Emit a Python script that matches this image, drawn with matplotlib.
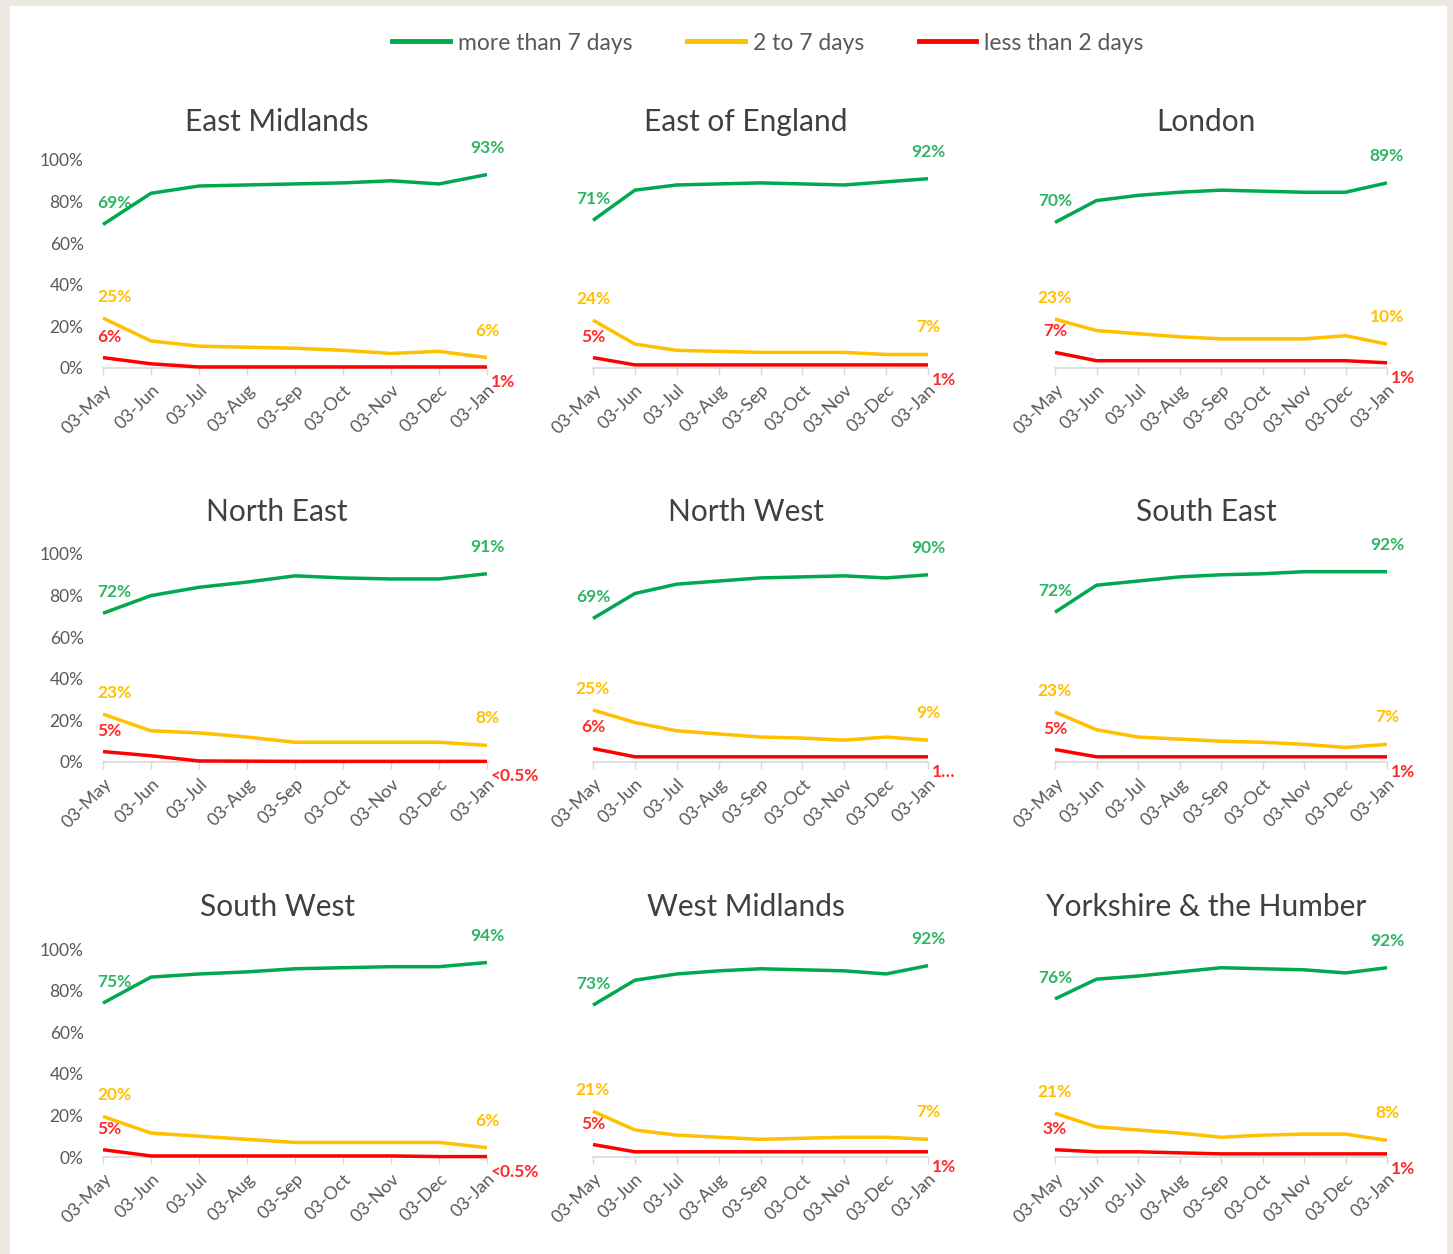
import matplotlib.pyplot as plt
from matplotlib.patches import Rectangle

months = ['03-May', '03-Jun', '03-Jul', '03-Aug', '03-Sep',
          '03-Oct', '03-Nov', '03-Dec', '03-Jan']
regions = ['East Midlands', 'East of England', 'London',
           'North East', 'North West', 'South East',
           'South West', 'West Midlands', 'Yorkshire & the Humber']

# % of cases
more_than_7 = [
    [69, 84, 87.5, 88, 88.5, 89, 90, 88.5, 93],
    [71, 85.5, 88, 88.5, 89, 88.5, 88, 89.5, 91],
    [70, 80.5, 83, 84.5, 85.5, 85, 84.5, 84.5, 89],
    [71.5, 80, 84, 86.5, 89.5, 88.5, 88, 88, 90.5],
    [69, 81, 85.5, 87, 88.5, 89, 89.5, 88.5, 90],
    [72, 85, 87, 89, 90, 90.5, 91.5, 91.5, 91.5],
    [74, 86.5, 88, 89, 90.5, 91, 91.5, 91.5, 93.5],
    [73, 85, 88, 89.5, 90.5, 90, 89.5, 88, 92],
    [76, 85.5, 87, 89, 91, 90.5, 90, 88.5, 91],
]
two_to_7 = [
    [24, 13, 10.5, 10, 9.5, 8.5, 7, 8, 5],
    [23, 11.5, 8.5, 8, 7.5, 7.5, 7.5, 6.5, 6.5],
    [23.5, 18, 16.5, 15, 14, 14, 14, 15.5, 11.5],
    [23, 15, 14, 12, 9.5, 9.5, 9.5, 9.5, 8],
    [25, 19, 15, 13.5, 12, 11.5, 10.5, 12, 10.5],
    [24, 15.5, 12, 11, 10, 9.5, 8.5, 7, 8.5],
    [19.5, 11.5, 10, 8.5, 7, 7, 7, 7, 4.5],
    [22, 13, 10.5, 9.5, 8.5, 9, 9.5, 9.5, 8.5],
    [21, 14.5, 13, 11.5, 9.5, 10.5, 11, 11, 8],
]
less_than_2 = [
    [5, 2, 0.5, 0.5, 0.5, 0.5, 0.5, 0.5, 0.5],
    [5, 1.5, 1.5, 1.5, 1.5, 1.5, 1.5, 1.5, 1.5],
    [7.5, 3.5, 3.5, 3.5, 3.5, 3.5, 3.5, 3.5, 2.5],
    [5, 3, 0.5, 0.4, 0.3, 0.3, 0.3, 0.3, 0.3],
    [6.5, 2.5, 2.5, 2.5, 2.5, 2.5, 2.5, 2.5, 2.5],
    [6, 2.5, 2.5, 2.5, 2.5, 2.5, 2.5, 2.5, 2.5],
    [3.5, 0.5, 0.5, 0.5, 0.5, 0.5, 0.5, 0.2, 0.2],
    [6, 2.5, 2.5, 2.5, 2.5, 2.5, 2.5, 2.5, 2.5],
    [3.5, 2.5, 2.5, 2, 1.5, 1.5, 1.5, 1.5, 1.5],
]

# data labels at the first and last point
green_first = ['69%', '71%', '70%', '72%', '69%', '72%', '75%', '73%', '76%']
green_last = ['93%', '92%', '89%', '91%', '90%', '92%', '94%', '92%', '92%']
yellow_first = ['25%', '24%', '23%', '23%', '25%', '23%', '20%', '21%', '21%']
yellow_last = ['6%', '7%', '10%', '8%', '9%', '7%', '6%', '7%', '8%']
red_first = ['6%', '5%', '7%', '5%', '6%', '5%', '5%', '5%', '3%']
red_last = ['1%', '1%', '1%', '<0.5%', '1…', '1%', '<0.5%', '1%', '1%']

series_names = ['more than 7 days', '2 to 7 days', 'less than 2 days']
line_cols = ['#00A84F', '#FFC000', '#FF0000']
text_cols = ['#2DB564', '#FFC000', '#FF2A2A']

W, H = 1453, 1254
plt.rcParams['font.family'] = ['Lato', 'DejaVu Sans']
fig = plt.figure(figsize=(W / 100, H / 100), dpi=100)
fig.patch.set_facecolor('#ECE8DF')
fig.add_artist(Rectangle((10 / W, 0), 1436 / W, 1248 / H,
                         transform=fig.transFigure, color='white', zorder=-5))

# plot-area boxes in pixels (left, width) and row baselines
cols_px = [(103, 384), (593, 335), (1055, 332)]
rows_px = [368, 762, 1157]
title_x = [277, 746, 1206]
title_y = [122, 512, 907]
plot_h = 208

grey = '#595959'
x = list(range(len(months)))

for i, name in enumerate(regions):
    r, c = divmod(i, 3)
    left, width = cols_px[c]
    base = rows_px[r]
    ax = fig.add_axes([left / W, (H - base) / H, width / W, plot_h / H])
    data = [more_than_7[i], two_to_7[i], less_than_2[i]]
    for k in range(3):
        ax.plot(x, data[k], color=line_cols[k], lw=2.5, clip_on=False,
                solid_capstyle='butt', zorder=5 - k)

    firsts = [green_first[i], yellow_first[i], red_first[i]]
    lasts = [green_last[i], yellow_last[i], red_last[i]]
    for k in range(3):
        ax.annotate(firsts[k], (0, data[k][0]), xytext=(-6 if c == 0 else 0, 21),
                    textcoords='offset pixels', ha='left' if c == 0 else 'center',
                    va='center', color=text_cols[k], fontsize=12.5, fontweight='bold')
        if k == 2:
            ax.annotate(lasts[k], (8, data[k][-1]), xytext=(4, -15),
                        textcoords='offset pixels', ha='left', va='center',
                        color=text_cols[k], fontsize=12.5, fontweight='bold')
        else:
            ax.annotate(lasts[k], (8, data[k][-1]), xytext=(0, 27),
                        textcoords='offset pixels', ha='center', va='center',
                        color=text_cols[k], fontsize=12.5, fontweight='bold')

    ax.set_xlim(0, 8)
    ax.set_ylim(0, 100)
    for s in ['top', 'right', 'left']:
        ax.spines[s].set_visible(False)
    ax.spines['bottom'].set_color('#D9D9D9')
    ax.spines['bottom'].set_linewidth(1.2)
    ax.set_xticks(x)
    ax.set_xticklabels(months, rotation=45, ha='right', va='top',
                       rotation_mode='anchor', color=grey, fontsize=13)
    ax.tick_params(axis='x', colors='#D9D9D9', length=5, width=1, pad=5,
                   labelcolor=grey)
    if c == 0:
        ax.set_yticks([0, 20, 40, 60, 80, 100])
        ax.set_yticklabels(['0%', '20%', '40%', '60%', '80%', '100%'],
                           color=grey, fontsize=12.5)
        ax.tick_params(axis='y', length=0, pad=14)
    else:
        ax.set_yticks([])
    ax.patch.set_alpha(0)

    fig.text(title_x[c] / W, 1 - title_y[r] / H, name, ha='center', va='center',
             fontsize=21.5, color='#404040')

handles = [plt.Line2D([], [], color=line_cols[k], lw=3.5) for k in range(3)]
fig.legend(handles, series_names, loc='center', bbox_to_anchor=(768 / W, 1 - 43 / H),
           ncol=3, frameon=False, fontsize=16.5, handlelength=2.5, handletextpad=0.35,
           columnspacing=2.4, labelcolor=grey)

fig.savefig('out.png', dpi=100, facecolor=fig.get_facecolor())
